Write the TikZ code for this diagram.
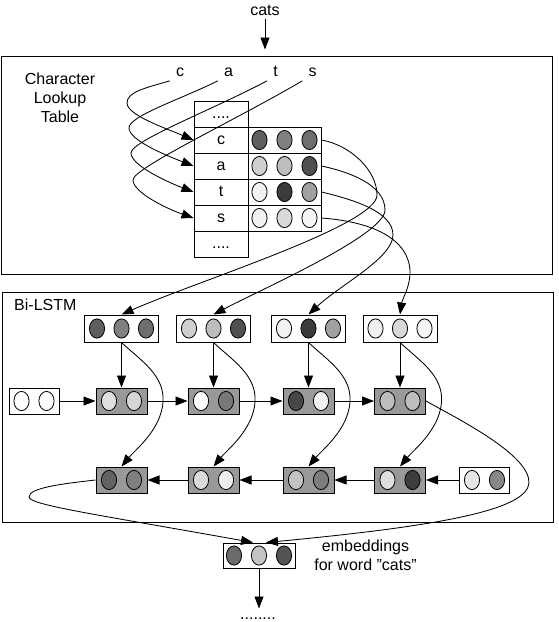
\documentclass[tikz,border=0pt]{standalone}
\usepackage{fontspec}
\setmainfont{Liberation Sans}
\usetikzlibrary{arrows.meta,calc}
\newcommand\orb[3]{\draw[orbline,fill=#3] ([xshift=#2pt]#1.center) ellipse [x radius=7.6, y radius=9.6];}
\begin{document}
\begin{tikzpicture}[x=1pt,y=-1pt,
  txt/.style={font=\fontsize{16}{19}\selectfont, inner sep=0pt},
  frame/.style={draw, line width=1pt, inner sep=0pt},
  cell/.style={draw, line width=1pt, inner sep=0pt, minimum width=54pt, minimum height=26pt,
    font=\fontsize{16}{19}\selectfont, text height=11.5pt, text depth=3.4pt},
  mrow/.style={draw, line width=1pt, inner sep=0pt, minimum width=73pt, minimum height=26pt},
  vecthree/.style={draw, line width=1pt, fill=white, inner sep=0pt, minimum width=74pt, minimum height=27pt},
  lstmcell/.style={draw, line width=1pt, fill=black!40, inner sep=0pt, minimum width=51pt, minimum height=26pt},
  initcell/.style={draw, line width=1pt, fill=white, inner sep=0pt, minimum width=50pt, minimum height=26pt},
  orbline/.style={draw, line width=0.8pt},
  arr/.style={line width=0.85pt, -{Triangle[length=12pt,width=9pt]}},
]
\useasboundingbox (0,0) rectangle (558,622);

% frames
\node[frame, minimum width=551pt, minimum height=218pt] (lookup) at (276.5,165) {};
\node[frame, minimum width=551pt, minimum height=230pt] (bilstm) at (277.5,407) {};

% labels
\node[txt, anchor=base] (cats) at (265,15) {cats};
\node[txt, align=center] (lookuplbl) at (60,98) {Character\\Lookup\\Table};
\node[txt, anchor=base west] (bilstmlbl) at (14,310) {Bi-LSTM};
\node[txt, anchor=base] (lc) at (180,76.5) {c};
\node[txt, anchor=base] (la) at (228.5,76.5) {a};
\node[txt, anchor=base] (lt) at (275.5,76.5) {t};
\node[txt, anchor=base] (ls) at (312.5,76.5) {s};

% lookup table
\node[cell] (trtop) at (221,114) {....};
\node[cell] (tc) at (221,140) {c};
\node[cell] (ta) at (221,166) {a};
\node[cell] (tt) at (221,192) {t};
\node[cell] (ts) at (221,218) {s};
\node[cell] (trbot) at (221,244) {....};
\node[mrow] (mc) at (284.5,140) {};
\node[mrow] (ma) at (284.5,166) {};
\node[mrow] (mt) at (284.5,192) {};
\node[mrow] (ms) at (284.5,218) {};
\orb{mc}{-25}{black!63}\orb{mc}{0}{black!50}\orb{mc}{25}{black!57}
\orb{ma}{-25}{black!19}\orb{ma}{0}{black!26}\orb{ma}{25}{black!69}
\orb{mt}{-25}{black!5}\orb{mt}{0}{black!77}\orb{mt}{25}{black!37}
\orb{ms}{-25}{black!6}\orb{ms}{0}{black!15}\orb{ms}{25}{black!4}

% input vectors
\node[vecthree] (in1) at (121.5,328.5) {};
\node[vecthree] (in2) at (213.5,328.5) {};
\node[vecthree] (in3) at (308.5,328.5) {};
\node[vecthree] (in4) at (400,328.5) {};
\orb{in1}{-24.5}{black!63}\orb{in1}{0}{black!50}\orb{in1}{24.5}{black!57}
\orb{in2}{-24.5}{black!19}\orb{in2}{0}{black!26}\orb{in2}{24.5}{black!69}
\orb{in3}{-24.5}{black!5}\orb{in3}{0}{black!77}\orb{in3}{24.5}{black!37}
\orb{in4}{-24.5}{black!6}\orb{in4}{0}{black!15}\orb{in4}{24.5}{black!4}

% forward row
\node[initcell] (finit) at (34,401) {};
\node[lstmcell] (f1) at (121.5,401) {};
\node[lstmcell] (f2) at (213.5,401) {};
\node[lstmcell] (f3) at (308.5,401) {};
\node[lstmcell] (f4) at (400,401) {};
\orb{finit}{-12.5}{white}\orb{finit}{12.5}{white}
\orb{f1}{-12.5}{black!12}\orb{f1}{12.5}{black!16}
\orb{f2}{-12.5}{white}\orb{f2}{12.5}{black!53}
\orb{f3}{-12.5}{black!72}\orb{f3}{12.5}{black!6}
\orb{f4}{-12.5}{black!26}\orb{f4}{12.5}{black!26}

% backward row
\node[lstmcell] (b1) at (121.5,480) {};
\node[lstmcell] (b2) at (213.5,480) {};
\node[lstmcell] (b3) at (308.5,480) {};
\node[lstmcell] (b4) at (400,480) {};
\node[initcell] (bfin) at (484.5,480) {};
\orb{b1}{-12.5}{black!61}\orb{b1}{12.5}{black!50}
\orb{b2}{-12.5}{black!14}\orb{b2}{12.5}{black!7}
\orb{b3}{-12.5}{black!23}\orb{b3}{12.5}{black!51}
\orb{b4}{-12.5}{black!13}\orb{b4}{12.5}{black!76}
\orb{bfin}{-12.5}{black!10}\orb{bfin}{12.5}{black!47}

% embedding output
\node[vecthree, minimum width=72pt, minimum height=25pt] (emb) at (259,555.5) {};
\orb{emb}{-25}{black!58}\orb{emb}{0}{black!23}\orb{emb}{25}{black!67}
\node[txt, align=center] (embtxt) at (365.5,555) {embeddings\\for word \char34 cats\char34};
\node[txt, anchor=base] (dots) at (258,619) {........};

% connectors
\draw[arr] ([yshift=-4pt]cats.south) -- ($(cats.south |- lookup.north)+(0,-6)$);

\draw[arr] ([shift={(-6,4)}]lc.south west) .. controls (145,88) and (127,92) .. (127,103) .. controls (127,115) and (165,128) .. (tc.west);
\draw[arr] ([shift={(-6,4)}]la.south west) .. controls (179,100) and (129,116) .. (129,128) .. controls (129,140) and (165,155) .. (ta.west);
\draw[arr] ([shift={(-6,4)}]lt.south west) .. controls (212,110) and (131,141) .. (131,153) .. controls (131,165) and (165,181) .. (tt.west);
\draw[arr] ([shift={(-6,4)}]ls.south west) .. controls (234,121) and (133,168) .. (133,180) .. controls (133,192) and (165,208) .. (ts.west);

\draw[arr] (mc.east) .. controls (350,145) and (377,170) .. (377,195) .. controls (377,225) and (200,280) .. (in1.north);
\draw[arr] (ma.east) .. controls (350,172) and (385,185) .. (385,210) .. controls (385,235) and (260,290) .. (in2.north);
\draw[arr] (mt.east) .. controls (355,200) and (393,212) .. (393,235) .. controls (393,258) and (340,285) .. (in3.north);
\draw[arr] (ms.east) .. controls (375,222) and (408,240) .. (410,270) .. controls (411,285) and (402,300) .. (in4.north);

\foreach \i/\cx in {1/121.5,2/213.5,3/308.5,4/400} {
  \draw[arr] (in\i.south) -- (f\i.north);
  \draw[arr] (in\i.south) .. controls (\cx+18.5,360) and (\cx+43.5,375) .. (\cx+41.5,402)
     .. controls (\cx+39.5,430) and (\cx+13.5,450) .. (b\i.north);
}

\draw[arr] (finit.east) -- (f1.west);
\draw[arr] (f1.east) -- (f2.west);
\draw[arr] (f2.east) -- (f3.west);
\draw[arr] (f3.east) -- (f4.west);
\draw[arr] (bfin.west) -- (b4.east);
\draw[arr] (b4.west) -- (b3.east);
\draw[arr] (b3.west) -- (b2.east);
\draw[arr] (b2.west) -- (b1.east);

\draw[arr] (f4.east) .. controls (460,420) and (530,455) .. (529,483) .. controls (527,510) and (440,526) .. ([xshift=7pt]emb.north);
\draw[arr] (b1.west) .. controls (60,484) and (29,488) .. (29,497) .. controls (29,505) and (100,515) .. ([xshift=-6pt]emb.north);
\draw[arr] (emb.south) -- ++(0,40);
\end{tikzpicture}
\end{document}
